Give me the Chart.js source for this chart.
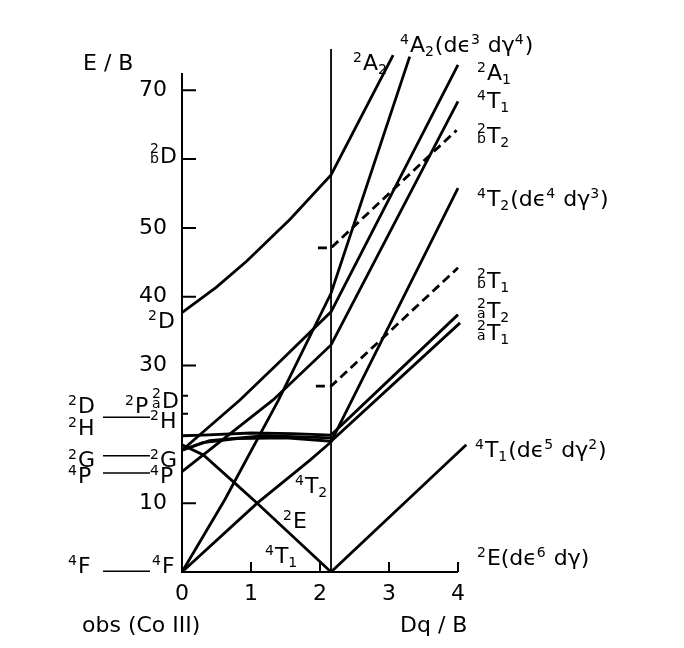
<!DOCTYPE html>
<html>
<head>
<meta charset="utf-8">
<script src="https://cdn.jsdelivr.net/npm/chart.js@4.4.1/dist/chart.umd.min.js"></script>
<style>
  html, body { margin: 0; padding: 0; background: #fff; }
  canvas { display: block; }
</style>
</head>
<body>
<canvas id="grafico" width="684" height="648"></canvas>
<script>
const FONT = '"DejaVu Sans", sans-serif';

// crossover point (weak field -> strong field)
const xCross = 2.16;

// term energies E/B, [Dq/B, E/B]
const t2A2  = [[0, 37.7], [0.5, 41.4], [0.94, 45.2], [1.57, 51.3], [2.16, 57.7], [3.06, 75.1]];
const t4A2  = [[0, 0], [0.62, 10.5], [1.40, 25], [2.16, 40.5], [3.30, 74.9]];
const t2A1  = [[0, 17.7], [0.84, 25], [1.42, 30.6], [2.16, 37.8], [4.0, 73.7]];
const t4T1P = [[0, 14.6], [1.32, 25], [2.16, 33.0], [4.0, 68.4]];
const t4T2  = [[0, 0], [1.09, 10], [1.86, 16.3], [2.16, 18.9], [4.0, 55.8]];
const t2E   = [[0, 18.5], [0.31, 17.0], [0.79, 12.7], [1.09, 10], [2.16, 0]];
const t2aT1 = [[0, 17.7], [0.3, 18.8], [0.8, 19.4], [1.5, 19.5], [2.16, 19.0], [4.03, 36.2]];
const t2aT2 = [[0, 19.8], [0.3, 19.9], [1.0, 20.2], [1.6, 20.1], [2.16, 19.9], [4.0, 37.4]];
const t2Tx  = [[0, 17.7], [0.4, 19.1], [1.2, 19.8], [2.16, 19.5]];
const t2bT2 = [[1.97, 47.1], [2.16, 47.1], [3.98, 64.2]];
const t2bT1 = [[1.94, 27.0], [2.16, 27.0], [4.0, 44.2]];
const t4T1  = [[2.16, 0], [4.12, 18.5]];
const divider = [[xCross, 0], [xCross, 76]];

// axes
const xTicks = [0, 1, 2, 3, 4];
const yTicks = [10, 30, 40, 50, 70];
const yTermTicks = [60];          // long tick for 2bD
const yShortTicks = [25.6, 23.0]; // 2aD, 2H
const yAxisTop = 72.5;

// observed levels (left column), connector lines
const obsLines = [22.5, 16.9, 14.4, 0.1];

// labels: text spec, x, y (data units, baseline)
// ^ = superscript, _ = subscript, % = stacked prescript
const termLabels = [
  ['%2bD', -0.464, 59.45],
  ['^2D', -0.493, 35.47],
  ['^2P', -0.826, 23.11],
  ['%2aD', -0.435, 23.84],
  ['^2H', -0.464, 20.93],
  ['^2G', -0.464, 15.26],
  ['^4P', -0.464, 12.94],
  ['^4F', -0.435, -0.15],
  ['^2D', -1.652, 23.11],
  ['^2H', -1.652, 19.91],
  ['^2G', -1.652, 15.26],
  ['^4P', -1.652, 12.94],
  ['^4F', -1.652, -0.15],
  ['^4T_2', 1.638, 11.48],
  ['^2E', 1.464, 6.40],
  ['^4T_1', 1.203, 1.31],
  ['^2A_2', 2.478, 72.97],
  ['^4A_2(dϵ^3 dγ^4)', 3.159, 75.58],
  ['^2A_1', 4.275, 71.51],
  ['^4T_1', 4.275, 67.44],
  ['%2bT_2', 4.275, 62.35],
  ['^4T_2(dϵ^4 dγ^3)', 4.275, 53.14],
  ['%2bT_1', 4.275, 41.28],
  ['%2aT_2', 4.275, 36.92],
  ['%2aT_1', 4.275, 33.72],
  ['^4T_1(dϵ^5 dγ^2)', 4.246, 16.72],
  ['^2E(dϵ^6 dγ)', 4.275, 1.02]
];

function linha(pts, w, dash) {
  return {
    data: pts.map(p => ({ x: p[0], y: p[1] })),
    borderColor: '#000',
    borderWidth: w,
    borderDash: dash || [],
    pointRadius: 0,
    tension: 0,
    fill: false,
    clip: false
  };
}

function drawTerm(c, x, y, spec) {
  const big = 22, small = 14;
  let i = 0;
  while (i < spec.length) {
    const ch = spec[i];
    if (ch === '^' || ch === '_') {
      const t = spec[i + 1];
      c.font = small + 'px ' + FONT;
      c.fillText(t, x, ch === '^' ? y - 8 : y + 4);
      x += c.measureText(t).width + 1;
      i += 2;
    } else if (ch === '%') {
      const a = spec[i + 1], b = spec[i + 2];
      c.font = small + 'px ' + FONT;
      c.fillText(a, x, y - 10);
      c.fillText(b, x, y);
      x += Math.max(c.measureText(a).width, c.measureText(b).width) + 1;
      i += 3;
    } else {
      c.font = big + 'px ' + FONT;
      c.fillText(ch, x, y);
      x += c.measureText(ch).width;
      i++;
    }
  }
}

const decor = {
  id: 'decor',
  afterDatasetsDraw(ch) {
    const c = ch.ctx;
    const X = v => ch.scales.x.getPixelForValue(v);
    const Y = v => ch.scales.y.getPixelForValue(v);
    c.save();
    c.strokeStyle = '#000';
    c.fillStyle = '#000';

    // axes
    c.lineWidth = 2;
    c.beginPath();
    c.moveTo(X(0), Y(yAxisTop));
    c.lineTo(X(0), Y(0));
    c.lineTo(X(4), Y(0));
    c.stroke();

    // tick marks (inside)
    c.beginPath();
    yTicks.concat(yTermTicks).forEach(v => { c.moveTo(X(0), Y(v)); c.lineTo(X(0) + 14, Y(v)); });
    yShortTicks.forEach(v => { c.moveTo(X(0), Y(v)); c.lineTo(X(0) + 6, Y(v)); });
    xTicks.slice(1).forEach(v => { c.moveTo(X(v), Y(0)); c.lineTo(X(v), Y(0) - 10); });
    c.stroke();

    // connectors from observed levels
    c.lineWidth = 1.5;
    c.beginPath();
    obsLines.forEach(v => { c.moveTo(X(-1.145), Y(v)); c.lineTo(X(-0.464), Y(v)); });
    c.stroke();

    // term labels
    c.textAlign = 'left';
    c.textBaseline = 'alphabetic';
    termLabels.forEach(l => drawTerm(c, X(l[1]), Y(l[2]), l[0]));

    // axis titles
    c.font = '22px ' + FONT;
    c.fillText('E / B', 83, 70);
    c.fillText('obs (Co III)', 82, 632);
    c.fillText('Dq / B', 400, 632);
    c.restore();
  }
};

new Chart(document.getElementById('grafico'), {
  type: 'line',
  data: {
    datasets: [
      linha(divider, 1.8),
      linha(t2A2, 2.8),
      linha(t4A2, 2.8),
      linha(t2A1, 2.8),
      linha(t4T1P, 2.8),
      linha(t4T2, 2.8),
      linha(t2E, 2.8),
      linha(t2aT1, 2.8),
      linha(t2aT2, 2.8),
      linha(t2Tx, 2.8),
      linha(t2bT2, 2.8, [9, 5]),
      linha(t2bT1, 2.8, [9, 5]),
      linha(t4T1, 2.8)
    ]
  },
  options: {
    responsive: false,
    animation: false,
    layout: { padding: { left: 0, right: 226, top: 49, bottom: 0 } },
    plugins: { legend: { display: false }, tooltip: { enabled: false } },
    scales: {
      x: {
        type: 'linear', min: 0, max: 4,
        grid: { display: false },
        border: { display: false },
        afterBuildTicks: s => { s.ticks = xTicks.map(v => ({ value: v })); },
        afterFit: s => { s.height = 76; },
        ticks: { color: '#000', font: { family: FONT, size: 22 }, padding: 1, maxRotation: 0 }
      },
      y: {
        type: 'linear', min: 0, max: 76,
        grid: { display: false },
        border: { display: false },
        afterBuildTicks: s => { s.ticks = yTicks.map(v => ({ value: v })); },
        afterFit: s => { s.width = 182; },
        ticks: { color: '#000', font: { family: FONT, size: 22 }, padding: 7 }
      }
    }
  },
  plugins: [decor]
});
</script>
</body>
</html>
